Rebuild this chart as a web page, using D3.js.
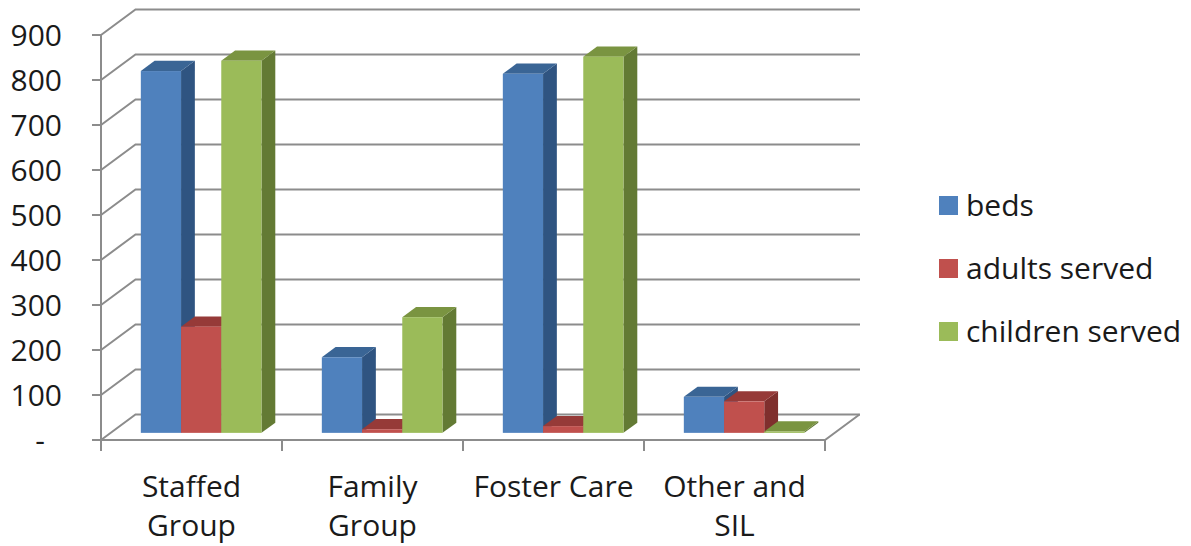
<!DOCTYPE html>
<html>
<head>
<meta charset="utf-8">
<script src="https://cdn.jsdelivr.net/npm/d3@7"></script>
<style>
  body { margin: 0; background: #fff; }
  text { font-family: "Open Sans", sans-serif; fill: #1a1a1a; }
</style>
</head>
<body>
<svg width="1191" height="546"></svg>
<script>
// data
const categories = [["Staffed", "Group"], ["Family", "Group"], ["Foster Care"], ["Other and", "SIL"]];
const seriesNames = ["beds", "adults served", "children served"];
const beds = [804, 168, 798, 80];
const adults = [236, 8, 15, 70];
const children = [827, 257, 836, 3];
const yTicks = [0, 100, 200, 300, 400, 500, 600, 700, 800, 900];

const series = [beds, adults, children];
const colors = [
  { front: "#4f81bd", side: "#2f5481", top: "#3a6595" },
  { front: "#c0504d", side: "#7f2f2d", top: "#963a38" },
  { front: "#9bbb59", side: "#637a34", top: "#7a9441" }
];

const svg = d3.select("svg");

// 3d depth offset of the floor / walls
const depthX = 34.5, depthY = -25.5;
const barFront = 0.28, barDepth = 0.4;

const y = d3.scaleLinear().domain([0, 900]).range([440, 35]);
const x = d3.scaleBand().domain(d3.range(categories.length)).range([101, 825]);
const bw = x.bandwidth();
const gap = bw * 1.5 / 4.5;
const xs = d3.scaleBand().domain(d3.range(series.length)).range([gap / 2, bw - gap / 2]);

const grid = svg.append("g")
  .attr("stroke", "#8c8c8c")
  .attr("stroke-width", 2)
  .attr("fill", "none");

// walls: side diagonals + back gridlines
yTicks.forEach(t => {
  const yy = y(t);
  grid.append("path")
    .attr("d", `M101,${yy} L${101 + depthX},${yy + depthY} L860,${yy + depthY}`);
});

// floor front edge + right edge
grid.append("path")
  .attr("d", `M101,${y(0)} L825,${y(0)} L${825 + depthX},${y(0) + depthY}`);
// front vertical axis
grid.append("line").attr("x1", 101).attr("x2", 101).attr("y1", y(900)).attr("y2", y(0));

// y ticks
yTicks.forEach(t => {
  grid.append("line").attr("x1", 92).attr("x2", 101).attr("y1", y(t)).attr("y2", y(t));
});
// x ticks
d3.range(categories.length + 1).forEach(i => {
  const xx = i < categories.length ? x(i) : 825;
  grid.append("line").attr("x1", xx).attr("x2", xx).attr("y1", y(0)).attr("y2", y(0) + 11);
});

// bars
const fx = depthX * barFront, fy = depthY * barFront;
const dx = depthX * barDepth, dy = depthY * barDepth;
const bars = svg.append("g");
categories.forEach((c, i) => {
  series.forEach((s, j) => {
    const x0 = x(i) + xs(j) + fx;
    const w = xs.bandwidth();
    const yb = y(0) + fy;
    const yt = y(s[i]) + fy;
    const g = bars.append("g");
    // side
    g.append("path")
      .attr("d", `M${x0 + w},${yb} L${x0 + w + dx},${yb + dy} L${x0 + w + dx},${yt + dy} L${x0 + w},${yt} Z`)
      .attr("fill", colors[j].side);
    // top
    g.append("path")
      .attr("d", `M${x0},${yt} L${x0 + dx},${yt + dy} L${x0 + w + dx},${yt + dy} L${x0 + w},${yt} Z`)
      .attr("fill", colors[j].top);
    // front
    g.append("rect")
      .attr("x", x0).attr("y", yt)
      .attr("width", w).attr("height", Math.max(yb - yt, 0))
      .attr("fill", colors[j].front);
  });
});

// y labels
const fs = 30;
svg.append("g").selectAll("text")
  .data(yTicks)
  .enter().append("text")
  .attr("x", d => d === 0 ? 45 : 62)
  .attr("y", d => y(d) + 11)
  .attr("text-anchor", "end")
  .style("font-size", fs + "px")
  .text(d => d === 0 ? "-" : d);

// category labels
categories.forEach((c, i) => {
  const t = svg.append("text")
    .attr("text-anchor", "middle")
    .style("font-size", fs + "px");
  c.forEach((line, k) => {
    t.append("tspan")
      .attr("x", x(i) + bw / 2)
      .attr("y", 497 + k * 39)
      .text(line);
  });
});

// legend
const legend = svg.append("g");
seriesNames.forEach((n, j) => {
  legend.append("rect")
    .attr("x", 939).attr("y", 196 + j * 63)
    .attr("width", 19).attr("height", 19)
    .attr("fill", colors[j].front);
  legend.append("text")
    .attr("x", 966).attr("y", 216 + j * 63)
    .style("font-size", fs + "px")
    .text(n);
});
</script>
</body>
</html>
